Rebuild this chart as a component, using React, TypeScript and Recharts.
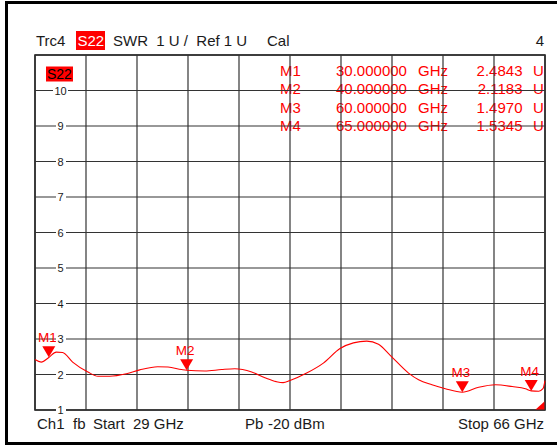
import React from 'react';
import { ComposedChart, Line, Scatter, XAxis, YAxis, CartesianGrid } from 'recharts';

// trace (GHz / SWR)
const traceFreqs = [
  29.0, 29.45, 30.0, 30.54, 31.0, 31.73, 32.84, 33.57, 34.42, 35.63, 36.6, 37.9, 38.65, 39.63,
  40.0, 41.32, 42.54, 43.5, 44.72, 45.68, 46.5, 47.0, 47.5, 48.71, 49.92, 51.13, 52.1, 53.07,
  53.92, 54.77, 56.1, 56.83, 57.8, 58.77, 60.0, 61.19, 62.4, 63.62, 64.58, 65.0, 65.55, 65.85, 66.0,
];
const traceValues = [
  2.42, 2.35, 2.48, 2.63, 2.62, 2.35, 2.07, 1.95, 1.95, 2.02, 2.13, 2.22, 2.21, 2.14,
  2.12, 2.1, 2.14, 2.16, 2.07, 1.91, 1.8, 1.77, 1.83, 2.04, 2.32, 2.73, 2.89, 2.94,
  2.85, 2.54, 2.04, 1.85, 1.71, 1.6, 1.5, 1.64, 1.71, 1.66, 1.6, 1.54, 1.53, 1.6, 1.83,
];

const markerNames = ['M1', 'M2', 'M3', 'M4'];
const markerFreqs = [30, 40, 60, 65];
const markerValues = [2.4843, 2.1183, 1.497, 1.5345];

const freqTicks = [29, 32.7, 36.4, 40.1, 43.8, 47.5, 51.2, 54.9, 58.6, 62.3, 66];
const swrTicks = [1, 2, 3, 4, 5, 6, 7, 8, 9, 10];

const trace = traceFreqs.map((freq, i) => ({ freq, value: traceValues[i] }));
const markers = markerNames.map((name, i) => ({ name, freq: markerFreqs[i], value: markerValues[i] }));

const FONT = '"Liberation Sans", Arial, sans-serif';
const RED = '#ff0000';
const INK = '#1a1a1a';

const YTick = (props: any) => {
  const { y, payload } = props;
  const wide = String(payload.value).length > 1;
  return (
    <g>
      <rect x={wide ? 53 : 56} y={y - 6} width={wide ? 15 : 10} height={12} fill="#fff" />
      <text x={60.5} y={y + 4} textAnchor="middle" fontSize={11} fontFamily={FONT} fill={INK}>
        {payload.value}
      </text>
    </g>
  );
};

const MarkerShape = (props: any) => {
  const { cx, cy, payload } = props;
  return (
    <g>
      <polygon points={`${cx - 6.5},${cy - 11} ${cx + 6.5},${cy - 11} ${cx},${cy}`} fill={RED} />
      <text x={cx - 1.5} y={cy - 15.5} textAnchor="middle" fontSize={13.5} fontFamily={FONT} fill={RED}>
        {payload.name}
      </text>
    </g>
  );
};

const rowBase = [75.5, 94, 112.5, 131];

const App = () => {
  return (
    <div style={{ position: 'absolute', left: 0, top: 0, width: 557, height: 447, background: '#fff' }}>
      <svg width={557} height={447} style={{ position: 'absolute', left: 0, top: 0 }} fontFamily={FONT}>
        {/* window frame */}
        <rect x={5} y={1} width={552} height={3} fill="#000" />
        <rect x={5} y={1} width={3} height={444} fill="#000" />
        <rect x={5} y={442} width={552} height={3} fill="#000" />
        {/* plot border */}
        <rect x={35} y={55} width={510} height={355} fill="none" stroke="#111" strokeWidth={1.5} />

        {/* header */}
        <text x={36} y={46} fontSize={15} fill={INK}>Trc4</text>
        <rect x={76} y={31} width={29} height={19} fill={RED} />
        <text x={77.5} y={46} fontSize={15} fill="#fff">S22</text>
        <text x={113} y={46} fontSize={15} fill={INK} style={{ whiteSpace: 'pre' }}>SWR  1 U /  Ref 1 U</text>
        <text x={267} y={46} fontSize={15} fill={INK}>Cal</text>
        <text x={544} y={46} fontSize={15} fill={INK} textAnchor="end">4</text>

        {/* trace tag in plot */}
        <rect x={46} y={66.5} width={27} height={15} fill={RED} />
        <text x={47} y={79} fontSize={14} fill="#000">S22</text>

        {/* corner flag */}
        <polygon points="535,410 545,410 545,401" fill={RED} />

        {/* marker table */}
        {markers.map((m, i) => (
          <g key={m.name} fontSize={15} fill={RED}>
            <text x={280} y={rowBase[i]}>{m.name}</text>
            <text x={336} y={rowBase[i]}>{m.freq.toFixed(6)}</text>
            <text x={418} y={rowBase[i]}>GHz</text>
            <text x={522.5} y={rowBase[i]} textAnchor="end">{m.value.toFixed(4)}</text>
            <text x={533} y={rowBase[i]}>U</text>
          </g>
        ))}

        {/* footer */}
        <g fontSize={15} fill={INK}>
          <text x={37} y={429}>Ch1</text>
          <text x={73} y={429}>fb</text>
          <text x={93} y={429}>Start</text>
          <text x={133} y={429}>29 GHz</text>
          <text x={245} y={429}>Pb</text>
          <text x={268} y={429}>-20 dBm</text>
          <text x={544} y={429} textAnchor="end">Stop  66 GHz</text>
        </g>
      </svg>

      <div style={{ position: 'absolute', left: 0, top: 0 }}>
        <ComposedChart
          width={557}
          height={447}
          margin={{ top: 55, right: 12, bottom: 37, left: 35 }}
        >
          <CartesianGrid stroke="#333" strokeWidth={1.2} />
          <XAxis
            dataKey="freq"
            type="number"
            domain={[29, 66]}
            ticks={freqTicks}
            hide
          />
          <YAxis
            type="number"
            domain={[1, 11]}
            ticks={swrTicks}
            mirror
            axisLine={false}
            tickLine={false}
            tick={<YTick />}
            interval={0}
          />
          <Line
            data={trace}
            dataKey="value"
            type="monotone"
            stroke={RED}
            strokeWidth={1.1}
            dot={false}
            isAnimationActive={false}
          />
          <Scatter
            data={markers}
            dataKey="value"
            shape={<MarkerShape />}
            isAnimationActive={false}
          />
        </ComposedChart>
      </div>
    </div>
  );
};

export default App;
